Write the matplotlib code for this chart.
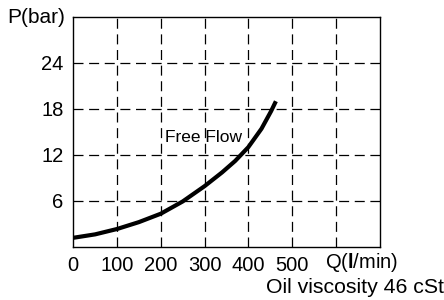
import matplotlib
matplotlib.use("Agg")
import matplotlib.pyplot as plt

plt.rcParams["font.family"] = ["Liberation Sans", "DejaVu Sans"]
plt.rcParams["mathtext.fontset"] = "custom"
plt.rcParams["mathtext.rm"] = "Liberation Sans"
plt.rcParams["mathtext.bf"] = "Liberation Sans:bold"

# ── Data ──────────────────────────────────────────────────────────────────────
flow_q = [0, 50, 100, 150, 200, 250, 300, 340, 370, 400, 430, 452, 463]        # l/min
pressure_p = [1.15, 1.6, 2.3, 3.2, 4.3, 5.9, 7.9, 9.7, 11.2, 13.0, 15.4, 17.7, 19.0]  # bar

x_grid = [100, 200, 300, 400, 500, 600]
y_grid = [6, 12, 18, 24]
x_ticks = [0, 100, 200, 300, 400, 500]
x_labels = ["0", "100", "200", "300", "400", "500"]
y_labels = ["6", "12", "18", "24"]

# ── Figure ────────────────────────────────────────────────────────────────────
fig = plt.figure(figsize=(4.44, 3.0), dpi=100)
ax = fig.add_axes([0.165, 0.178, 0.69, 0.765])
ax.set_xlim(0, 700)
ax.set_ylim(0, 30)

for sp in ax.spines.values():
    sp.set_linewidth(1.0)
    sp.set_color("black")

for x in x_grid:
    ax.axvline(x, color="black", lw=0.9, ls=(0, (8, 4.5)), zorder=1)
for y in y_grid:
    ax.axhline(y, color="black", lw=0.9, ls=(0, (8, 4.5)), zorder=1)

ax.plot(flow_q, pressure_p, color="black", lw=3.0, solid_capstyle="butt",
        solid_joinstyle="round", zorder=3)

ax.set_xticks(x_ticks, x_labels)
ax.set_yticks(y_grid, y_labels)
ax.tick_params(length=0, labelsize=14.5, pad=7)

ax.text(209, 14.3, "Free Flow", fontsize=12.5, va="center", ha="left",
        zorder=2)

ax.text(-0.025, 1.0, "P(bar)", transform=ax.transAxes, fontsize=15,
        ha="right", va="center")
ax.text(575, -2.1, r"Q($\mathbf{l}$/min)", fontsize=14.5, ha="left",
        va="center")
ax.text(1.21, -0.135, "Oil viscosity 46 cSt", transform=ax.transAxes,
        fontsize=15.3, ha="right", va="top")

fig.savefig("out.png", dpi=100)
